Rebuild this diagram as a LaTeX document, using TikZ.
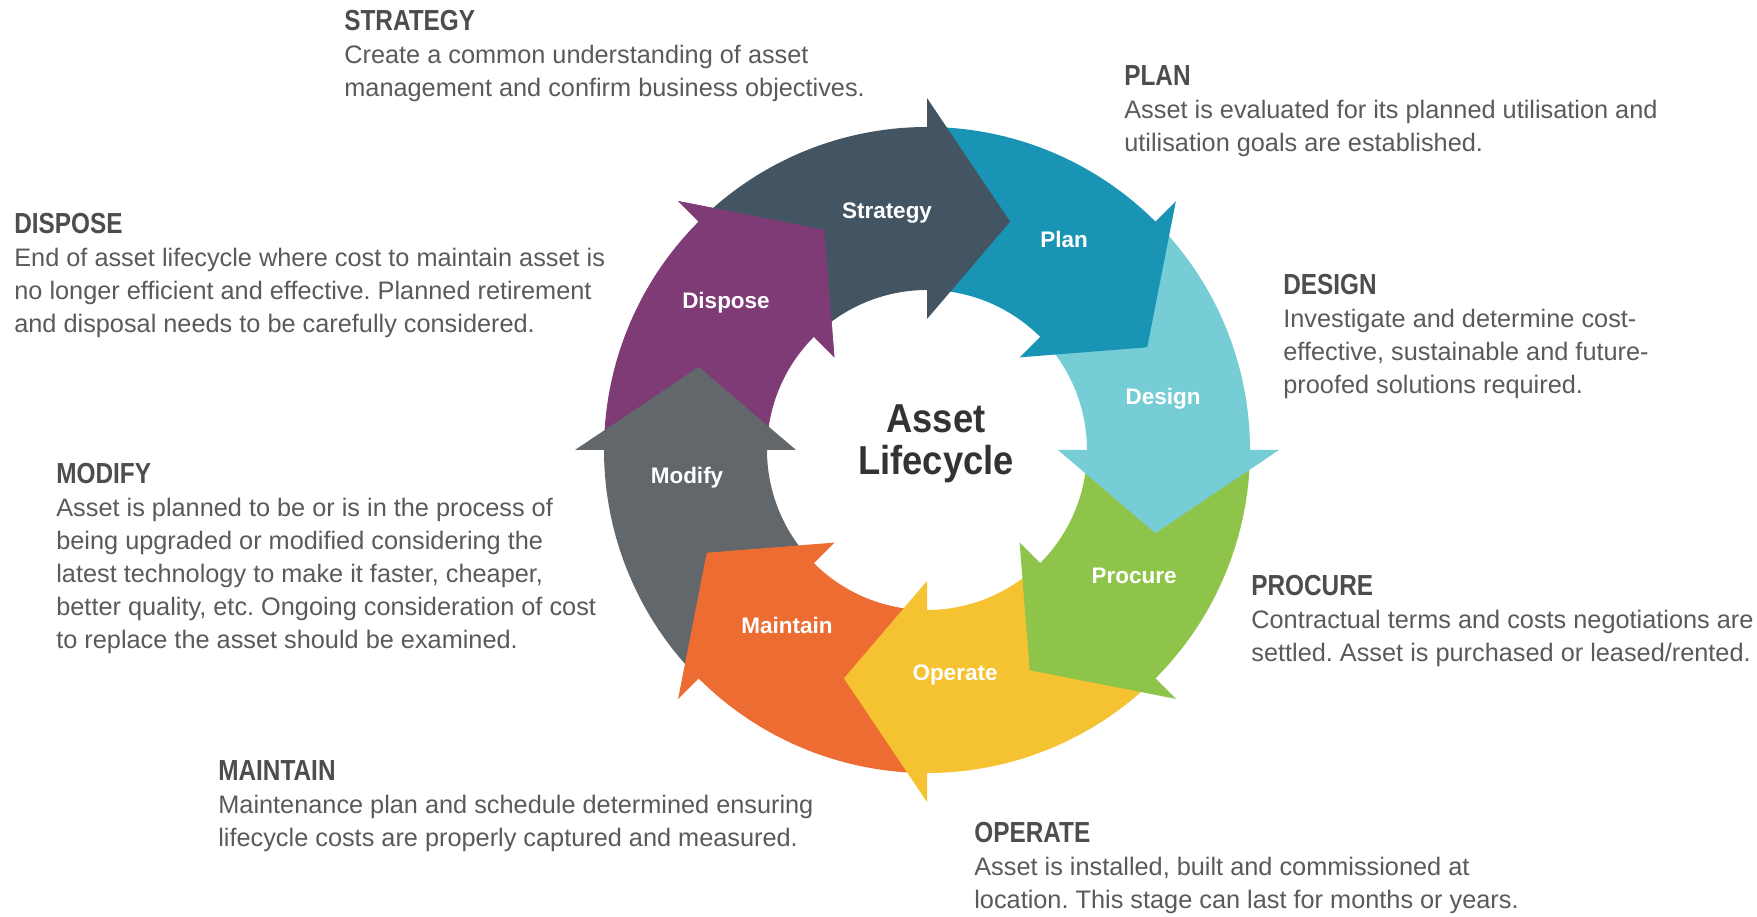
\documentclass[tikz,border=0pt]{standalone}
\usepackage{fontspec}
\setmainfont{Liberation Sans}
\newfontfamily\headfont[FakeStretch=0.84]{Liberation Sans}
\newfontfamily\hubfont[FakeStretch=0.9]{Liberation Sans}
\frenchspacing

\definecolor{cStrategy}{HTML}{435563}
\definecolor{cPlan}{HTML}{1A94B4}
\definecolor{cDesign}{HTML}{76CDD6}
\definecolor{cProcure}{HTML}{8EC449}
\definecolor{cOperate}{HTML}{F5C232}
\definecolor{cMaintain}{HTML}{EC6C31}
\definecolor{cModify}{HTML}{61676A}
\definecolor{cDispose}{HTML}{7E3B76}
\definecolor{headgray}{HTML}{4D4D4D}
\definecolor{descgray}{HTML}{5A5A5A}
\newcommand{\hd}[1]{{\headfont\bfseries\fontsize{16.5}{18.8}\selectfont\color{headgray}#1}}

\begin{document}
\begin{tikzpicture}[x=0.2mm, y=0.2mm, every node/.style={inner sep=0pt},
  stage/.style={text=white, font=\bfseries\fontsize{12.8}{15}\selectfont},
  info/.style={anchor=north west, align=left, text=descgray, font=\fontsize{14.4}{18.8}\selectfont}]
\useasboundingbox[fill=white] (0,0) rectangle (1757,916);

\begin{scope}[shift={(927,466)}]
% curved arrows, each tail hidden under the head before it
\fill[cDispose] (177:160) arc[start angle=177, end angle=135, radius=160] -- (135:131) -- (115:243) -- (135:352) -- (135:323) arc[start angle=135, end angle=177, radius=323] -- cycle;
\fill[cModify] (222:160) arc[start angle=222, end angle=180, radius=160] -- (180:131) -- (160:243) -- (180:352) -- (180:323) arc[start angle=180, end angle=222, radius=323] -- cycle;
\fill[cMaintain] (-93:160) arc[start angle=-93, end angle=-135, radius=160] -- (-135:131) -- (-155:243) -- (-135:352) -- (-135:323) arc[start angle=-135, end angle=-93, radius=323] -- cycle;
\fill[cOperate] (-48:160) arc[start angle=-48, end angle=-90, radius=160] -- (-90:131) -- (-110:243) -- (-90:352) -- (-90:323) arc[start angle=-90, end angle=-48, radius=323] -- cycle;
\fill[cProcure] (-3:160) arc[start angle=-3, end angle=-45, radius=160] -- (-45:131) -- (-65:243) -- (-45:352) -- (-45:323) arc[start angle=-45, end angle=-3, radius=323] -- cycle;
\fill[cDesign] (42:160) arc[start angle=42, end angle=0, radius=160] -- (0:131) -- (-20:243) -- (0:352) -- (0:323) arc[start angle=0, end angle=42, radius=323] -- cycle;
\fill[cPlan] (87:160) arc[start angle=87, end angle=45, radius=160] -- (45:131) -- (25:243) -- (45:352) -- (45:323) arc[start angle=45, end angle=87, radius=323] -- cycle;
\fill[cStrategy] (132:160) arc[start angle=132, end angle=90, radius=160] -- (90:131) -- (70:243) -- (90:352) -- (90:323) arc[start angle=90, end angle=132, radius=323] -- cycle;
% dispose head again, over the strategy tail
\fill[cDispose] (135:352) -- (115:243) -- (135:131) -- cycle;
\end{scope}

\node (C) at (936,472) [align=center, text=black!80, font=\hubfont\bfseries\fontsize{23}{24.2}\selectfont] {Asset\\Lifecycle};

\node[stage] (L1) at (887,703) {Strategy};
\node[stage] (L2) at (1064,677) {Plan};
\node[stage] (L3) at (1163,517) {Design};
\node[stage] (L4) at (1134,340) {Procure};
\node[stage] (L5) at (955,241) {Operate};
\node[stage] (L6) at (787,291) {Maintain};
\node[stage] (L7) at (687,438) {Modify};
\node[stage] (L8) at (726,613) {Dispose};

\node[info] (T1) at (344,906) {\hd{STRATEGY}\\Create a common understanding of asset\\management and confirm business objectives.};
\node[info] (T2) at (1124,851) {\hd{PLAN}\\Asset is evaluated for its planned utilisation and\\utilisation goals are established.};
\node[info] (T3) at (1283,642) {\hd{DESIGN}\\Investigate and determine cost-\\effective, sustainable and future-\\proofed solutions required.};
\node[info] (T4) at (1251,341) {\hd{PROCURE}\\Contractual terms and costs negotiations are\\settled. Asset is purchased or leased/rented.};
\node[info] (T5) at (974,94) {\hd{OPERATE}\\Asset is installed, built and commissioned at\\location. This stage can last for months or years.};
\node[info] (T6) at (218,156) {\hd{MAINTAIN}\\Maintenance plan and schedule determined ensuring\\lifecycle costs are properly captured and measured.};
\node[info] (T7) at (56,453) {\hd{MODIFY}\\Asset is planned to be or is in the process of\\being upgraded or modified considering the\\latest technology to make it faster, cheaper,\\better quality, etc. Ongoing consideration of cost\\to replace the asset should be examined.};
\node[info] (T8) at (14,703) {\hd{DISPOSE}\\End of asset lifecycle where cost to maintain asset is\\no longer efficient and effective. Planned retirement\\and disposal needs to be carefully considered.};

\end{tikzpicture}
\end{document}
